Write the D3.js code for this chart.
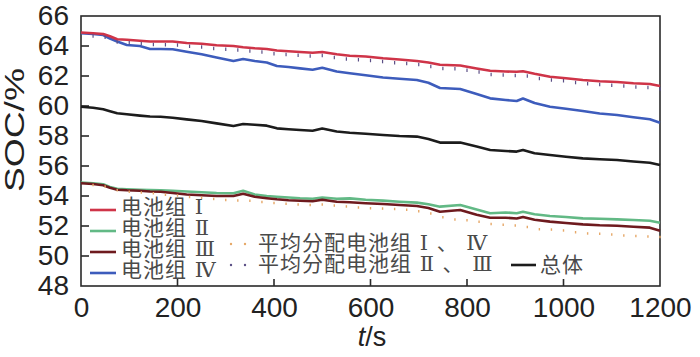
<!DOCTYPE html>
<html><head><meta charset="utf-8">
<script src="https://cdn.jsdelivr.net/npm/d3@7/dist/d3.min.js"></script>
<style>html,body{margin:0;padding:0;background:#fff;}svg{display:block;}</style>
</head><body><svg id="c" width="700" height="357"></svg>
<script>
const T = [0,25,46,60,75,95,122,143,165,190,219,250,281,316,336,360,385,406,430,454,480,500,530,557,590,626,660,696,720,744,786,820,848,880,903,916,940,972,1005,1040,1075,1111,1145,1179,1200];
const packI = [64.9,64.85,64.8,64.65,64.45,64.42,64.35,64.3,64.3,64.3,64.2,64.15,64.05,64.0,63.92,63.85,63.8,63.7,63.65,63.6,63.55,63.6,63.45,63.35,63.3,63.18,63.1,63.0,62.9,62.75,62.7,62.5,62.35,62.3,62.28,62.32,62.15,61.95,61.85,61.73,61.65,61.6,61.52,61.47,61.33];
const packIV = [64.85,64.8,64.73,64.5,64.3,64.07,64.0,63.8,63.8,63.78,63.62,63.45,63.24,63.0,63.13,63.0,62.9,62.67,62.6,62.51,62.42,62.55,62.3,62.18,62.05,61.9,61.82,61.73,61.55,61.2,61.13,60.8,60.51,60.4,60.33,60.5,60.2,59.95,59.82,59.67,59.5,59.4,59.25,59.12,58.89];
const total = [59.95,59.88,59.78,59.65,59.52,59.45,59.36,59.3,59.28,59.22,59.11,59.0,58.84,58.67,58.8,58.75,58.69,58.51,58.45,58.4,58.35,58.5,58.3,58.22,58.15,58.07,58.0,57.96,57.8,57.56,57.56,57.3,57.07,57.0,56.96,57.07,56.85,56.73,56.62,56.51,56.45,56.4,56.3,56.22,56.07];
const packII = [54.9,54.85,54.78,54.6,54.48,54.45,54.42,54.4,54.38,54.35,54.3,54.25,54.2,54.18,54.35,54.1,54.0,53.95,53.9,53.85,53.82,53.9,53.82,53.84,53.75,53.69,53.62,53.56,53.45,53.29,53.4,53.1,52.85,52.9,52.85,52.95,52.78,52.67,52.6,52.51,52.48,52.44,52.4,52.35,52.22];
const packIII = [54.85,54.8,54.72,54.55,54.42,54.38,54.35,54.3,54.28,54.2,54.1,54.05,54.0,54.0,54.15,53.95,53.85,53.78,53.72,53.68,53.65,53.75,53.62,53.58,53.52,53.47,53.4,53.33,53.2,52.95,53.07,52.75,52.55,52.55,52.5,52.6,52.42,52.29,52.2,52.11,52.05,52.02,51.95,51.89,51.69];

const Td = [0,25,50,75,100,125,150,175,200,225,250,275,300,325,350,375,400,425,450,475,500,525,550,575,600,625,650,675,700,725,750,775,800,825,850,875,900,925,950,975,1000,1025,1050,1075,1100,1125,1150,1175,1200];
const avgI_IV = [54.8,54.75,54.65,54.4,54.3,54.25,54.2,54.1,54.05,53.95,53.9,53.82,53.75,53.72,53.7,53.62,53.55,53.5,53.45,53.42,53.45,53.38,53.32,53.25,53.2,53.18,53.15,53.1,53.0,52.85,52.6,52.45,52.4,52.3,52.15,52.1,52.05,51.95,51.8,51.78,51.72,51.6,51.52,51.5,51.45,51.38,51.35,51.32,51.28];
const avgII_III = [64.85,64.78,64.7,64.38,64.33,64.28,64.22,64.2,64.18,64.1,64.05,63.95,63.9,63.85,63.78,63.72,63.6,63.55,63.5,63.45,63.48,63.35,63.25,63.2,63.15,63.08,63.0,62.95,62.88,62.75,62.62,62.6,62.5,62.38,62.22,62.18,62.15,62.12,61.95,61.85,61.8,61.68,61.6,61.55,61.5,61.45,61.38,61.35,61.25];

const xTicks = [0,200,400,600,800,1000,1200];
const yTicks = [48,50,52,54,56,58,60,62,64,66];
const legendPacks = ['电池组 Ⅰ','电池组 Ⅱ','电池组 Ⅲ','电池组 Ⅳ'];
const legendAvg = ['平均分配电池组 Ⅰ 、 Ⅳ','平均分配电池组 Ⅱ 、 Ⅲ'];
const legendTotal = '总体';

const svg = d3.select('#c');
const L = 81, R = 660, Tp = 16, B = 286;
const x = d3.scaleLinear().domain([0,1200]).range([L,R]);
const y = d3.scaleLinear().domain([48,66]).range([B,Tp]);
const axisColor = '#2a2a2a';
const fontAx = '"Liberation Sans", Arial, sans-serif';

svg.append('rect').attr('x',L).attr('y',Tp).attr('width',R-L).attr('height',B-Tp)
  .attr('fill','none').attr('stroke',axisColor).attr('stroke-width',1.6);

const ya = svg.append('g').attr('transform',`translate(${L},0)`)
  .call(d3.axisLeft(y).tickValues(yTicks).tickSize(0).tickPadding(12).tickFormat(d3.format('d')));
ya.select('.domain').remove();
ya.selectAll('text').attr('font-family',fontAx).attr('font-size',28).attr('fill','#222');
svg.append('g').selectAll('line').data(yTicks.filter(v=>v>48&&v<66)).join('line')
  .attr('x1',L).attr('x2',L+8).attr('y1',d=>y(d)).attr('y2',d=>y(d))
  .attr('stroke',axisColor).attr('stroke-width',1.6);

const xa = svg.append('g').attr('transform',`translate(0,${B})`)
  .call(d3.axisBottom(x).tickValues(xTicks).tickSize(0).tickPadding(11).tickFormat(d3.format('d')));
xa.select('.domain').remove();
xa.selectAll('text').attr('font-family',fontAx).attr('font-size',28).attr('fill','#222');
svg.append('g').selectAll('line').data(xTicks.filter(v=>v>0&&v<1200)).join('line')
  .attr('x1',d=>x(d)).attr('x2',d=>x(d)).attr('y1',B).attr('y2',B-7)
  .attr('stroke',axisColor).attr('stroke-width',1.6);

const xt = svg.append('text').attr('x',372).attr('y',346).attr('text-anchor','middle')
  .attr('font-family',fontAx).attr('font-size',27).attr('fill','#222');
xt.append('tspan').attr('font-style','italic').text('t');
xt.append('tspan').text('/s');
svg.append('text').attr('transform','translate(24,130) rotate(-90)').attr('text-anchor','middle')
  .attr('font-family',fontAx).attr('font-size',28).attr('fill','#222')
  .attr('textLength',124).attr('lengthAdjust','spacingAndGlyphs').text('SOC/%');

const cRed = '#cf3448', cBlue = '#3d5cbc', cBlack = '#1c1c1c', cGreen = '#62b985', cBrown = '#6e1a1e';
const cOrange = '#e6a868', cPurple = '#5b4f86';

const line = d3.line().x(d=>x(d[0])).y(d=>y(d[1]));
const series = [
  {v: packII, c: cGreen},
  {v: packIII, c: cBrown},
  {v: total, c: cBlack},
  {v: packIV, c: cBlue},
  {v: packI, c: cRed},
];
const plot = svg.append('g');
series.forEach(s=>{
  plot.append('path').datum(T.map((t,i)=>[t,s.v[i]])).attr('d',line)
    .attr('fill','none').attr('stroke',s.c).attr('stroke-width',2.6).attr('stroke-linejoin','round');
});
plot.append('g').selectAll('line').data(Td.map((t,i)=>[t,avgII_III[i]]).slice(1)).join('line')
  .attr('x1',d=>x(d[0])).attr('x2',d=>x(d[0])).attr('y1',d=>y(d[1])).attr('y2',d=>y(d[1])+3.5)
  .attr('stroke',cPurple).attr('stroke-width',1.2);
plot.append('g').selectAll('line').data(Td.map((t,i)=>[t,avgI_IV[i]]).slice(1)).join('line')
  .attr('x1',d=>x(d[0])).attr('x2',d=>x(d[0])).attr('y1',d=>y(d[1])-1).attr('y2',d=>y(d[1])+1.5)
  .attr('stroke',cOrange).attr('stroke-width',1.4);

// legend
const fontLeg = '"DejaVu Serif", "Noto Sans CJK SC", serif';
const txtCol = '#4a4a4a';
const lg = svg.append('g');
const leg1Cols = [cRed, cGreen, cBrown, cBlue];
const leg1Y = [210, 231, 252, 273];
legendPacks.forEach((p,i)=>{
  lg.append('line').attr('x1',90).attr('x2',116).attr('y1',leg1Y[i]).attr('y2',leg1Y[i]).attr('stroke',leg1Cols[i]).attr('stroke-width',2.6);
  lg.append('text').attr('x',121).attr('y',leg1Y[i]+4).attr('font-family',fontLeg).attr('font-size',21)
    .attr('letter-spacing',1).attr('fill',txtCol).text(p);
});
const leg2Cols = [cOrange, cPurple];
const leg2Y = [244, 265];
legendAvg.forEach((p,i)=>{
  [231,245].forEach(px=>lg.append('circle').attr('cx',px).attr('cy',leg2Y[i]).attr('r',1.2).attr('fill',leg2Cols[i]));
  lg.append('text').attr('x',258).attr('y',leg2Y[i]+6).attr('font-family',fontLeg).attr('font-size',21)
    .attr('letter-spacing',1).attr('fill',txtCol).text(p);
});
lg.append('line').attr('x1',511).attr('x2',536).attr('y1',265).attr('y2',265).attr('stroke',cBlack).attr('stroke-width',2.6);
lg.append('text').attr('x',540).attr('y',272).attr('font-family',fontLeg).attr('font-size',21)
  .attr('letter-spacing',1).attr('fill',txtCol).text(legendTotal);
</script></body></html>
